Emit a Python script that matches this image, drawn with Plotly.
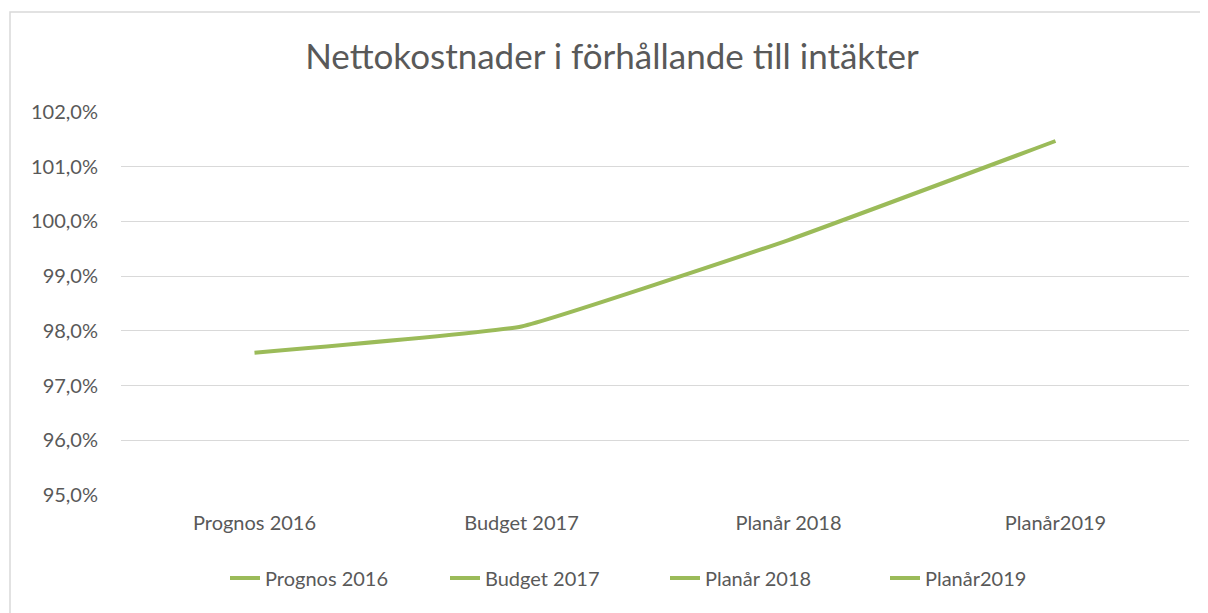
import plotly.graph_objects as go

categories = ["Prognos 2016", "Budget 2017", "Planår 2018", "Planår2019"]
values = [0.9760, 0.9808, 0.9966, 1.0147]
series_name = "Nettokostnader i förhållande till intäkter"

GREEN = "#9BBB59"
TXT = "#595959"
FONT = "Lato, 'Open Sans', sans-serif"

fig = go.Figure()
fig.add_trace(go.Scatter(
    x=categories, y=values, mode="lines", name=series_name,
    line=dict(color=GREEN, width=4, shape="spline", smoothing=0.3),
    showlegend=False, hoverinfo="x+y",
))
for c in categories:
    fig.add_trace(go.Scatter(
        x=[None], y=[None], mode="lines", name=c,
        line=dict(color=GREEN, width=4), showlegend=True,
    ))

# page body adds an 8px offset, so the figure is 8px smaller than the window
OFF = 8
W, H = 1208 - OFF, 613 - OFF
ml, mr, mt, mb = 121 - OFF, 19, 112 - OFF, 118
pw, ph = W - ml - mr, H - mt - mb
bottom_px = H - mb

fig.update_layout(
    width=W, height=H,
    margin=dict(l=ml, r=mr, t=mt, b=mb, autoexpand=False),
    paper_bgcolor="white", plot_bgcolor="white",
    separators=", ",
    font=dict(family=FONT, color=TXT, size=20),
    title=dict(text=series_name, x=(612 - OFF) / W, xanchor="center", xref="container",
               y=1 - (57 - OFF) / H, yanchor="middle",
               font=dict(size=35, color=TXT, family=FONT)),
    xaxis=dict(type="category", range=[-0.5, 3.5], showgrid=False,
               showline=False, ticks="", tickfont=dict(size=20, color=TXT),
               ticklabelstandoff=14, automargin=False),
    yaxis=dict(range=[0.95, 1.02], dtick=0.01, tick0=0.95, tickformat=".1%",
               showgrid=True, gridcolor="#D9D9D9", gridwidth=1,
               zeroline=False, showline=False, ticks="",
               tickfont=dict(size=20, color=TXT), ticklabelstandoff=22,
               automargin=False),
    legend=dict(orientation="h", x=(665 - OFF - ml) / pw, xanchor="center",
                y=-(578 - OFF - bottom_px) / ph, yanchor="middle",
                font=dict(size=20, color=TXT), itemwidth=30, entrywidth=175,
                bgcolor="rgba(0,0,0,0)"),
    showlegend=True,
)
# faint chart frame border as in the reference
fig.add_shape(type="rect", xref="paper", yref="paper",
              x0=(10 - OFF - ml) / pw, x1=(W + 5 - ml) / pw,
              y0=-(H + 5 - bottom_px) / ph, y1=(bottom_px - (12 - OFF)) / ph,
              line=dict(color="#D9D9D9", width=1.5), fillcolor="rgba(0,0,0,0)",
              layer="below")

fig.write_html("out.html")
